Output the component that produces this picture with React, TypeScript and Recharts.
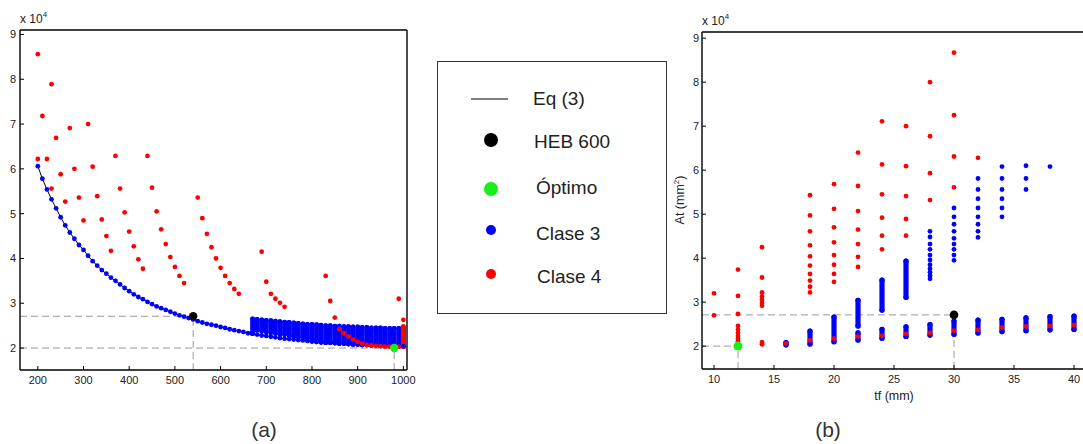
import React from 'react';
import { ScatterChart, Scatter, XAxis, YAxis, ReferenceLine, ErrorBar } from 'recharts';

const AZUL = '#0000ff';
const ROJO = '#ff0000';
const VERDE = '#19f019';
const GRIS = '#9a9a9a';
const FUENTE = '"Liberation Sans", Arial, sans-serif';

// ---------- (a) At frente a hw ----------
const ticksHw = [200, 300, 400, 500, 600, 700, 800, 900, 1000];
const ticksAt = [20000, 30000, 40000, 50000, 60000, 70000, 80000, 90000];

// Eq (3) y secciones clase 3 sobre la curva [hw, At]
const curvaEq3: [number, number][] = [
  [200, 60600], [210, 57800], [220, 55400], [230, 53200], [240, 51200], [250, 49200], [260, 47400], [270, 45800], [280, 44400], [290, 43000],
  [300, 41900], [310, 40600], [320, 39400], [330, 38400], [340, 37400], [350, 36600], [360, 35700], [370, 35000], [380, 34200], [390, 33400],
  [400, 32700], [410, 32000], [420, 31400], [430, 30900], [440, 30300], [450, 29800], [460, 29300], [470, 28900], [480, 28500], [490, 28100],
  [500, 27700], [510, 27300], [520, 27000], [530, 26700], [540, 26400], [550, 26000], [560, 25700], [570, 25400], [580, 25200], [590, 25000],
  [600, 24700], [610, 24500], [620, 24200], [630, 24000], [640, 23800], [650, 23600], [660, 23300], [670, 23200], [680, 23000], [690, 22800],
  [700, 22700], [710, 22500], [720, 22400], [730, 22200], [740, 22100], [750, 22000], [760, 21900], [770, 21800], [780, 21700], [790, 21600],
  [800, 21500], [810, 21400], [820, 21300], [830, 21200], [840, 21200], [850, 21100], [860, 21000], [870, 21000], [880, 20900], [890, 20800],
  [900, 20800], [910, 20700], [920, 20700], [930, 20600], [940, 20600], [950, 20500], [960, 20500], [970, 20500], [980, 20400], [990, 20400],
  [1000, 20400],
];

// columnas densas clase 3 [hw, At min, At max]
const bandaClase3A: [number, number, number][] = [
  [670, 23200, 26500], [680, 24000, 26400], [690, 23800, 26300], [700, 23600, 26200], [710, 23400, 26100], [720, 23300, 26000],
  [730, 23100, 25900], [740, 23000, 25800], [750, 22800, 25700], [760, 22600, 25600], [770, 22500, 25500], [780, 22300, 25400],
  [790, 22200, 25300], [800, 21500, 25300], [810, 21400, 25200], [820, 21300, 25100], [830, 21200, 25000], [840, 21200, 25000],
  [850, 21100, 24900], [860, 21000, 24900], [870, 21000, 24800], [880, 20900, 24800], [890, 20800, 24700], [900, 20800, 24700],
  [910, 20700, 24600], [920, 20700, 24600], [930, 20600, 24500], [940, 20600, 24500], [950, 20500, 24500], [960, 20500, 24400],
  [970, 20500, 24400], [980, 20400, 24400], [990, 20400, 24400], [1000, 20400, 24400],
];

const clase4A: [number, number][] = [
  [200, 85600], [230, 78900], [210, 71800], [270, 69100], [310, 70000], [240, 66900], [200, 62200], [220, 62200],
  [370, 62900], [440, 62900], [250, 58800], [280, 60000], [320, 60500], [230, 55600], [260, 52700], [290, 53600],
  [330, 53900], [380, 55600], [450, 55800], [550, 53600], [300, 48500], [340, 48700], [390, 50300], [460, 50500],
  [560, 49000], [350, 45000], [400, 46000], [470, 46500], [570, 45500], [360, 41700], [410, 42700], [480, 43200],
  [580, 42500], [420, 39800], [490, 40300], [590, 40000], [430, 37700], [500, 38100], [600, 37900], [510, 36100],
  [610, 36100], [520, 34500], [620, 34500], [630, 33200], [640, 32100], [690, 41500], [700, 34800], [710, 32100],
  [720, 31000], [730, 30100], [740, 29200], [830, 36100], [840, 30500], [850, 26800], [990, 31000], [1000, 26300],
  [860, 24200], [870, 23300], [880, 22600], [890, 21900], [900, 21400], [910, 21000], [920, 20700], [930, 20600],
  [940, 20500], [950, 20400], [960, 20300], [970, 20300], [990, 20300],
];
const columnaClase4A: [number, number, number][] = [[1000, 20300, 24800]];
const heb600A: [number, number][] = [[540, 27100]];
const optimoA: [number, number][] = [[980, 20000]];

// ---------- (b) At frente a tf ----------
const ticksTf = [10, 15, 20, 25, 30, 35, 40];

const clase4B: [number, number[]][] = [
  [10, [32000, 27000]],
  [12, [37400, 31400, 27300, 24600, 23700, 23000, 22300, 21700, 21100, 20600]],
  [14, [42500, 35600, 32200, 31300, 30500, 29800, 29200, 20900, 20400]],
  [16, [20600]],
  [18, [54300, 49700, 46100, 42900, 40400, 38300, 36400, 34900, 33500, 32200, 21300]],
  [20, [56800, 51200, 47000, 43600, 40700, 38500, 36400, 34600, 21700]],
  [22, [64000, 56400, 50700, 46500, 43200, 40300, 38000, 22200]],
  [24, [71100, 61300, 54500, 49200, 45100, 42000, 22400]],
  [26, [70000, 60900, 54100, 48900, 45100, 22800]],
  [28, [80000, 67700, 59300, 53200, 23000]],
  [30, [86700, 72500, 63100, 56100, 23500]],
  [32, [62800, 23700]],
  [34, [24200]],
  [36, [24500]],
  [38, [24600]],
  [40, [24800]],
];

const clase3B: [number, number[]][] = [
  [28, [46100, 44800, 43200, 42000, 40700, 39600, 38500, 37600, 36800, 36000, 35300]],
  [30, [51400, 49400, 47700, 46100, 44500, 43200, 42000, 40700, 39500]],
  [32, [58100, 55600, 53500, 51400, 49400, 47700, 46100, 44700]],
  [34, [60800, 58100, 55600, 53500, 51400, 49400]],
  [36, [61000, 58100, 55600]],
  [38, [60800]],
];

// columnas densas clase 3 [tf, At min, At max]
const bandaClase3B: [number, number, number][] = [
  [16, 20300, 20800], [18, 20500, 23400], [20, 21000, 26600],
  [22, 21400, 23000], [22, 24600, 30400],
  [24, 21800, 23800], [24, 28200, 35000],
  [26, 22200, 24400], [26, 31100, 39300],
  [28, 22500, 24900], [30, 22700, 25700], [32, 23000, 25900], [34, 23300, 26100],
  [36, 23500, 26400], [38, 23700, 26700], [40, 23800, 26800],
];
const heb600B: [number, number][] = [[30, 27100]];
const optimoB: [number, number][] = [[12, 20000]];

// ---------- helpers ----------
const pares = (d: [number, number][]) => d.map(([x, y]) => ({ x, y }));
const columnas = (d: [number, number[]][]) => d.flatMap(([x, ys]) => ys.map((y) => ({ x, y })));
const rangos = (d: [number, number, number][]) => d.map(([x, lo, hi]) => ({ x, y: lo, err: [0, hi - lo] }));

const punto = (r: number, color: string) => (props: any) => {
  const { cx, cy } = props;
  if (cx == null || cy == null) return <g />;
  return <circle cx={cx} cy={cy} r={r} fill={color} />;
};
const sinPunto = () => <g />;

const tickStyle = { fontSize: 11, fill: '#222', fontFamily: FUENTE };
const axisLine = { stroke: '#000', strokeWidth: 1.4 };
const tickLine = { stroke: '#000' };
const fmtAt = (v: number) => String(v / 10000);

const domHw: [number, number] = [161, 1008];
const domAtA: [number, number] = [15100, 91000];
const domTf: [number, number] = [9, 41];
const domAtB: [number, number] = [14800, 91400];

function GraficoA() {
  return (
    <ScatterChart width={420} height={400} margin={{ top: 29, right: 12, bottom: 10, left: 0 }}>
      <XAxis xAxisId="b" type="number" dataKey="x" domain={domHw} ticks={ticksHw} allowDataOverflow interval={0}
        tickSize={-4} tickMargin={10} height={20} axisLine={axisLine} tickLine={tickLine} tick={tickStyle} />
      <XAxis xAxisId="t" orientation="top" type="number" dataKey="x" domain={domHw} ticks={ticksHw} allowDataOverflow interval={0}
        tickSize={-4} height={1} axisLine={axisLine} tickLine={tickLine} tick={false} />
      <YAxis yAxisId="l" type="number" dataKey="y" domain={domAtA} ticks={ticksAt} allowDataOverflow interval={0}
        tickSize={-4} tickMargin={8} width={20} axisLine={axisLine} tickLine={tickLine} tick={tickStyle} tickFormatter={fmtAt} />
      <YAxis yAxisId="r" orientation="right" type="number" dataKey="y" domain={domAtA} ticks={ticksAt} allowDataOverflow interval={0}
        tickSize={-4} width={1} axisLine={axisLine} tickLine={tickLine} tick={false} />

      <ReferenceLine xAxisId="b" yAxisId="l" segment={[{ x: domHw[0], y: 27100 }, { x: 540, y: 27100 }]} stroke={GRIS} strokeDasharray="7 4" />
      <ReferenceLine xAxisId="b" yAxisId="l" segment={[{ x: 540, y: domAtA[0] }, { x: 540, y: 27100 }]} stroke={GRIS} strokeDasharray="7 4" />
      <ReferenceLine xAxisId="b" yAxisId="l" segment={[{ x: domHw[0], y: 20000 }, { x: domHw[1], y: 20000 }]} stroke={GRIS} strokeDasharray="7 4" />
      <ReferenceLine xAxisId="b" yAxisId="l" segment={[{ x: 980, y: domAtA[0] }, { x: 980, y: 20000 }]} stroke={GRIS} strokeDasharray="7 4" />

      <Scatter name="Eq (3)" xAxisId="b" yAxisId="l" data={pares(curvaEq3)} line={{ stroke: '#000', strokeWidth: 1 }} shape={sinPunto} isAnimationActive={false} />
      <Scatter name="Clase 3" xAxisId="b" yAxisId="l" data={pares(curvaEq3)} shape={punto(2.4, AZUL)} isAnimationActive={false} />
      <Scatter name="Clase 3 banda" xAxisId="b" yAxisId="l" data={rangos(bandaClase3A)} shape={sinPunto} isAnimationActive={false}>
        <ErrorBar dataKey="err" direction="y" width={0} stroke={AZUL} strokeWidth={4.8} strokeLinecap="round" isAnimationActive={false} />
      </Scatter>
      <Scatter name="Clase 4" xAxisId="b" yAxisId="l" data={pares(clase4A)} shape={punto(2.4, ROJO)} isAnimationActive={false} />
      <Scatter name="Clase 4 columna" xAxisId="b" yAxisId="l" data={rangos(columnaClase4A)} shape={sinPunto} isAnimationActive={false}>
        <ErrorBar dataKey="err" direction="y" width={0} stroke={ROJO} strokeWidth={4.8} strokeLinecap="round" isAnimationActive={false} />
      </Scatter>
      <Scatter name="HEB 600" xAxisId="b" yAxisId="l" data={pares(heb600A)} shape={punto(4.2, '#000')} isAnimationActive={false} />
      <Scatter name="Óptimo" xAxisId="b" yAxisId="l" data={pares(optimoA)} shape={punto(4.2, VERDE)} isAnimationActive={false} />
    </ScatterChart>
  );
}

function GraficoB() {
  return (
    <ScatterChart width={440} height={400} margin={{ top: 31, right: 13, bottom: 11, left: 20 }}>
      <XAxis xAxisId="b" type="number" dataKey="x" domain={domTf} ticks={ticksTf} allowDataOverflow interval={0}
        tickSize={-4} tickMargin={10} height={20} axisLine={axisLine} tickLine={tickLine} tick={tickStyle} />
      <XAxis xAxisId="t" orientation="top" type="number" dataKey="x" domain={domTf} ticks={ticksTf} allowDataOverflow interval={0}
        tickSize={-4} height={1} axisLine={axisLine} tickLine={tickLine} tick={false} />
      <YAxis yAxisId="l" type="number" dataKey="y" domain={domAtB} ticks={ticksAt} allowDataOverflow interval={0}
        tickSize={-4} tickMargin={7} width={22} axisLine={axisLine} tickLine={tickLine} tick={tickStyle} tickFormatter={fmtAt} />
      <YAxis yAxisId="r" orientation="right" type="number" dataKey="y" domain={domAtB} ticks={ticksAt} allowDataOverflow interval={0}
        tickSize={-4} width={1} axisLine={axisLine} tickLine={tickLine} tick={false} />

      <ReferenceLine xAxisId="b" yAxisId="l" segment={[{ x: domTf[0], y: 27100 }, { x: 30, y: 27100 }]} stroke={GRIS} strokeDasharray="7 4" />
      <ReferenceLine xAxisId="b" yAxisId="l" segment={[{ x: 30, y: domAtB[0] }, { x: 30, y: 27100 }]} stroke={GRIS} strokeDasharray="7 4" />
      <ReferenceLine xAxisId="b" yAxisId="l" segment={[{ x: domTf[0], y: 20000 }, { x: 12, y: 20000 }]} stroke={GRIS} strokeDasharray="7 4" />
      <ReferenceLine xAxisId="b" yAxisId="l" segment={[{ x: 12, y: domAtB[0] }, { x: 12, y: 20000 }]} stroke={GRIS} strokeDasharray="7 4" />

      <Scatter name="Clase 3 banda" xAxisId="b" yAxisId="l" data={rangos(bandaClase3B)} shape={sinPunto} isAnimationActive={false}>
        <ErrorBar dataKey="err" direction="y" width={0} stroke={AZUL} strokeWidth={5.2} strokeLinecap="round" isAnimationActive={false} />
      </Scatter>
      <Scatter name="Clase 3" xAxisId="b" yAxisId="l" data={columnas(clase3B)} shape={punto(2.4, AZUL)} isAnimationActive={false} />
      <Scatter name="Clase 4" xAxisId="b" yAxisId="l" data={columnas(clase4B)} shape={punto(2.4, ROJO)} isAnimationActive={false} />
      <Scatter name="HEB 600" xAxisId="b" yAxisId="l" data={pares(heb600B)} shape={punto(4.3, '#000')} isAnimationActive={false} />
      <Scatter name="Óptimo" xAxisId="b" yAxisId="l" data={pares(optimoB)} shape={punto(4.5, VERDE)} isAnimationActive={false} />
    </ScatterChart>
  );
}

function Leyenda() {
  const texto: React.CSSProperties = {
    position: 'absolute', fontSize: 19, color: '#222', fontFamily: FUENTE, lineHeight: '22px', whiteSpace: 'nowrap',
  };
  const items = [
    { y: 80, label: 'HEB 600', color: '#000', r: 7, cy: 78, tx: 96 },
    { y: 126, label: 'Óptimo', color: VERDE, r: 7, cy: 127, tx: 98 },
    { y: 172, label: 'Clase 3', color: AZUL, r: 5, cy: 168, tx: 98 },
    { y: 215, label: 'Clase 4', color: ROJO, r: 5, cy: 212, tx: 99 },
  ];
  return (
    <div style={{ position: 'absolute', left: 437, top: 61, width: 228, height: 251, border: '1px solid #333', background: '#fff' }}>
      <svg width={228} height={251} style={{ position: 'absolute', left: 0, top: 0 }}>
        <line x1={33} y1={37} x2={70} y2={37} stroke="#000" strokeWidth={1} />
        {items.map((it) => (
          <circle key={it.label} cx={53} cy={it.cy} r={it.r} fill={it.color} />
        ))}
      </svg>
      <div style={{ ...texto, left: 95, top: 37 - 11 }}>Eq (3)</div>
      {items.map((it) => (
        <div key={it.label} style={{ ...texto, left: it.tx, top: it.y - 11 }}>{it.label}</div>
      ))}
    </div>
  );
}

const escala = (left: number, top: number) => (
  <div style={{ position: 'absolute', left, top, fontSize: 12, lineHeight: '14px', color: '#222', fontFamily: FUENTE, whiteSpace: 'nowrap' }}>
    x 10<span style={{ fontSize: 8, position: 'relative', top: -6 }}>4</span>
  </div>
);

export default function App() {
  return (
    <div style={{ position: 'fixed', left: 0, top: 0, width: 1083, height: 444, overflow: 'hidden', background: '#fff', fontFamily: FUENTE }}>
      <div style={{ position: 'absolute', left: 0, top: 0 }}>
        <GraficoA />
      </div>
      <div style={{ position: 'absolute', left: 660, top: 0 }}>
        <GraficoB />
      </div>
      <Leyenda />
      {escala(20, 12)}
      {escala(702, 14)}
      <div style={{ position: 'absolute', left: 680, top: 200, transform: 'translate(-50%, -50%) rotate(-90deg)', fontSize: 12.5, color: '#222', whiteSpace: 'nowrap' }}>
        At (mm<span style={{ fontSize: 8, position: 'relative', top: -5 }}>2</span>)
      </div>
      <div style={{ position: 'absolute', left: 894, top: 396, transform: 'translate(-50%, -50%)', fontSize: 12.5, color: '#222', whiteSpace: 'nowrap' }}>
        tf (mm)
      </div>
      <div style={{ position: 'absolute', left: 264, top: 430, transform: 'translate(-50%, -50%)', fontSize: 21, color: '#333', whiteSpace: 'nowrap' }}>
        (a)
      </div>
      <div style={{ position: 'absolute', left: 828, top: 430, transform: 'translate(-50%, -50%)', fontSize: 21, color: '#333', whiteSpace: 'nowrap' }}>
        (b)
      </div>
    </div>
  );
}
